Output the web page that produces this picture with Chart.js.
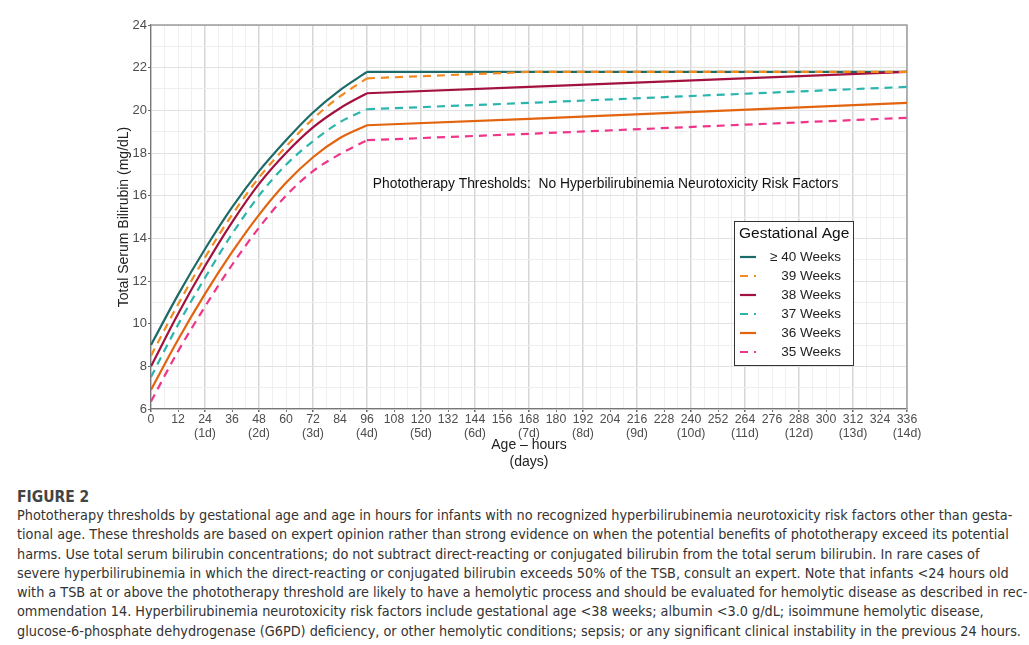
<!DOCTYPE html>
<html>
<head>
<meta charset="utf-8">
<script src="https://cdn.jsdelivr.net/npm/chart.js@4.4.1/dist/chart.umd.min.js"></script>
<style>
    body {
        margin: 0;
        width: 1029px;
        height: 645px;
        background: #fff;
        position: relative;
        overflow: hidden;
    }
    #chart-box {
        position: absolute;
        left: 0;
        top: 0;
        width: 1029px;
        height: 480px;
    }
    #caption {
        position: absolute;
        left: 17px;
        top: 488px;
        width: 1005px;
        font-family: "DejaVu Sans Condensed", "Liberation Sans Narrow", sans-serif;
        color: #333;
    }
    #caption h4 {
        margin: 0 0 0 0;
        font-size: 15.5px;
        font-weight: bold;
        color: #444;
    }
    #caption div {
        font-size: 14.3px;
        line-height: 19.3px;
        white-space: nowrap;
    }
</style>
</head>
<body>
<div id="chart-box"><canvas id="chart"></canvas></div>
<div id="caption">
    <h4>FIGURE 2</h4>
    <div>Phototherapy thresholds by gestational age and age in hours for infants with no recognized hyperbilirubinemia neurotoxicity risk factors other than gesta-</div>
    <div>tional age. These thresholds are based on expert opinion rather than strong evidence on when the potential benefits of phototherapy exceed its potential</div>
    <div>harms. Use total serum bilirubin concentrations; do not subtract direct-reacting or conjugated bilirubin from the total serum bilirubin. In rare cases of</div>
    <div>severe hyperbilirubinemia in which the direct-reacting or conjugated bilirubin exceeds 50% of the TSB, consult an expert. Note that infants &lt;24 hours old</div>
    <div>with a TSB at or above the phototherapy threshold are likely to have a hemolytic process and should be evaluated for hemolytic disease as described in rec-</div>
    <div>ommendation 14. Hyperbilirubinemia neurotoxicity risk factors include gestational age &lt;38 weeks; albumin &lt;3.0 g/dL; isoimmune hemolytic disease,</div>
    <div>glucose-6-phosphate dehydrogenase (G6PD) deficiency, or other hemolytic conditions; sepsis; or any significant clinical instability in the previous 24 hours.</div>
</div>
<script>
// --------------------------------
// || Data
// --------------------------------

// rising part, first 4 days
const rampHours = [0, 12, 24, 36, 48, 60, 72, 84, 96];
// straight part after day 4
const tailHours = [168, 336];

const ramp40 = [9.0, 11.35, 13.5, 15.45, 17.15, 18.6, 19.9, 20.95, 21.8];
const ramp39 = [8.5, 10.9, 13.1, 15.1, 16.85, 18.3, 19.6, 20.65, 21.5];
const ramp38 = [8.0, 10.45, 12.7, 14.75, 16.55, 18.0, 19.2, 20.1, 20.8];
const ramp37 = [7.5, 9.95, 12.15, 14.2, 16.0, 17.45, 18.55, 19.45, 20.05];
const ramp36 = [6.9, 9.25, 11.4, 13.35, 15.1, 16.6, 17.8, 18.7, 19.3];
const ramp35 = [6.35, 8.7, 10.8, 12.75, 14.5, 16.0, 17.15, 17.95, 18.6];

const tail40 = [21.8, 21.8];
const tail39 = [21.8, 21.8];
const tail38 = [21.1, 21.8];
const tail37 = [20.35, 21.1];
const tail36 = [19.6, 20.35];
const tail35 = [18.9, 19.65];

const seriesNames = ['\u2265 40 Weeks', '39 Weeks', '38 Weeks', '37 Weeks', '36 Weeks', '35 Weeks'];
const seriesColors = ['#1d6b69', '#f28a1f', '#a3113f', '#2bb5ad', '#e2640f', '#ef3589'];
const seriesDashed = [false, true, false, true, false, true];

const xTickStep = 6;
const yTicks = [6, 8, 10, 12, 14, 16, 18, 20, 22, 24];

const noteText = 'Phototherapy Thresholds:  No Hyperbilirubinemia Neurotoxicity Risk Factors';
const noteAt = { x: 98.6, y: 16.55 };

// --------------------------------
// || Datasets
// --------------------------------

const tickFont = 'Liberation Sans, Arial, sans-serif';

const ramps = [ramp40, ramp39, ramp38, ramp37, ramp36, ramp35];
const tails = [tail40, tail39, tail38, tail37, tail36, tail35];

function lineStyle(i) {
    return {
        borderColor: seriesColors[i],
        backgroundColor: seriesColors[i],
        borderWidth: 2.2,
        borderDash: seriesDashed[i] ? [8, 6] : [],
        pointRadius: 0,
        // >= 40 goes underneath so the 39 dashes show on top of it
        order: i === 0 ? 1 : 0
    };
}

const datasets = [];
ramps.forEach((values, i) => {
    datasets.push(Object.assign({
        label: seriesNames[i],
        data: values.map((v, k) => ({ x: rampHours[k], y: v })),
        cubicInterpolationMode: 'monotone'
    }, lineStyle(i)));
});
tails.forEach((values, i) => {
    const last = ramps[i].length - 1;
    const pts = [{ x: rampHours[last], y: ramps[i][last] }];
    values.forEach((v, k) => pts.push({ x: tailHours[k], y: v }));
    datasets.push(Object.assign({
        label: seriesNames[i] + ' (tail)',
        data: pts,
        tension: 0
    }, lineStyle(i)));
});

// --------------------------------
// || Plugin: frame, note, titles, legend
// --------------------------------

const extras = {
    id: 'extras',
    beforeDatasetsDraw(chart) {
        const { ctx, chartArea: a } = chart;
        ctx.save();
        ctx.strokeStyle = '#9c9c9c';
        ctx.lineWidth = 1.4;
        ctx.beginPath();
        ctx.moveTo(a.left, a.top);
        ctx.lineTo(a.right, a.top);
        ctx.lineTo(a.right, a.bottom);
        ctx.stroke();
        ctx.restore();
    },
    afterDraw(chart) {
        const { ctx, chartArea: a, scales } = chart;
        ctx.save();

        // note inside the plot
        ctx.fillStyle = '#111';
        ctx.font = '13.8px ' + tickFont;
        ctx.textAlign = 'left';
        ctx.textBaseline = 'middle';
        ctx.fillText(noteText, scales.x.getPixelForValue(noteAt.x), scales.y.getPixelForValue(noteAt.y));

        // axis titles
        ctx.fillStyle = '#222';
        ctx.font = '14px ' + tickFont;
        ctx.textAlign = 'center';
        const midX = (a.left + a.right) / 2;
        ctx.fillText('Age \u2013 hours', midX, 445);
        ctx.fillText('(days)', midX, 462);

        ctx.save();
        ctx.translate(124, (a.top + a.bottom) / 2);
        ctx.rotate(-Math.PI / 2);
        ctx.fillText('Total Serum Bilirubin (mg/dL)', 0, 0);
        ctx.restore();

        // legend box
        const lx = a.right - 173;
        const ly = a.top + 196;
        const lw = 119;
        const lh = 144;
        ctx.fillStyle = '#fff';
        ctx.fillRect(lx, ly, lw, lh);
        ctx.strokeStyle = '#333';
        ctx.lineWidth = 1;
        ctx.strokeRect(lx + 0.5, ly + 0.5, lw, lh);

        ctx.fillStyle = '#111';
        ctx.font = '15.5px ' + tickFont;
        ctx.textAlign = 'left';
        ctx.fillText('Gestational Age', lx + 5, ly + 12.5);

        ctx.font = '13.5px ' + tickFont;
        seriesNames.forEach((name, i) => {
            const ds = chart.data.datasets[i];
            const y = ly + 36 + i * 19;
            ctx.strokeStyle = ds.borderColor;
            ctx.lineWidth = 2.2;
            ctx.setLineDash(ds.borderDash);
            ctx.beginPath();
            ctx.moveTo(lx + 6, y);
            ctx.lineTo(lx + 22, y);
            ctx.stroke();
            ctx.setLineDash([]);
            ctx.fillStyle = '#222';
            ctx.textAlign = 'right';
            ctx.fillText(name, lx + 107, y);
        });

        ctx.restore();
    }
};

// --------------------------------
// || Chart
// --------------------------------

const chart = new Chart(document.getElementById('chart'), {
    type: 'line',
    data: { datasets: datasets },
    plugins: [extras],
    options: {
        responsive: true,
        maintainAspectRatio: false,
        animation: false,
        layout: {
            padding: { left: 0, top: 25, right: 122, bottom: 0 }
        },
        plugins: {
            legend: { display: false },
            tooltip: { enabled: false }
        },
        scales: {
            x: {
                type: 'linear',
                min: 0,
                max: 336,
                afterFit: s => { s.height = 71; },
                border: { color: '#777', width: 1.3 },
                grid: {
                    color: c => c.tick && c.tick.value % 24 === 0 ? '#d6d6d6' : '#ededed',
                    lineWidth: c => c.tick && c.tick.value % 24 === 0 ? 1.5 : 0.9,
                    tickLength: 3,
                    tickColor: c => c.tick && c.tick.value % 12 === 0 ? '#666' : 'rgba(0,0,0,0)'
                },
                ticks: {
                    stepSize: xTickStep,
                    autoSkip: false,
                    maxRotation: 0,
                    padding: 1,
                    color: '#4d4d4d',
                    font: { family: tickFont, size: 12.3, lineHeight: 1.1 },
                    callback: value => {
                        if (value % 12 !== 0) return '';
                        if (value > 0 && value % 24 === 0) return [String(value), '(' + (value / 24) + 'd)'];
                        return String(value);
                    }
                }
            },
            y: {
                min: yTicks[0],
                max: yTicks[yTicks.length - 1],
                afterFit: s => { s.width = 151; },
                border: { color: '#777', width: 1.3 },
                grid: {
                    color: c => c.tick && c.tick.value % 2 === 0 ? '#e2e2e2' : '#eeeeee',
                    lineWidth: 1,
                    tickLength: 3,
                    tickColor: c => c.tick && yTicks.includes(c.tick.value) ? '#666' : 'rgba(0,0,0,0)'
                },
                ticks: {
                    stepSize: 1,
                    autoSkip: false,
                    padding: 1,
                    color: '#4d4d4d',
                    font: { family: tickFont, size: 13 },
                    callback: value => yTicks.includes(value) ? String(value) : ''
                }
            }
        }
    }
});
</script>
</body>
</html>
